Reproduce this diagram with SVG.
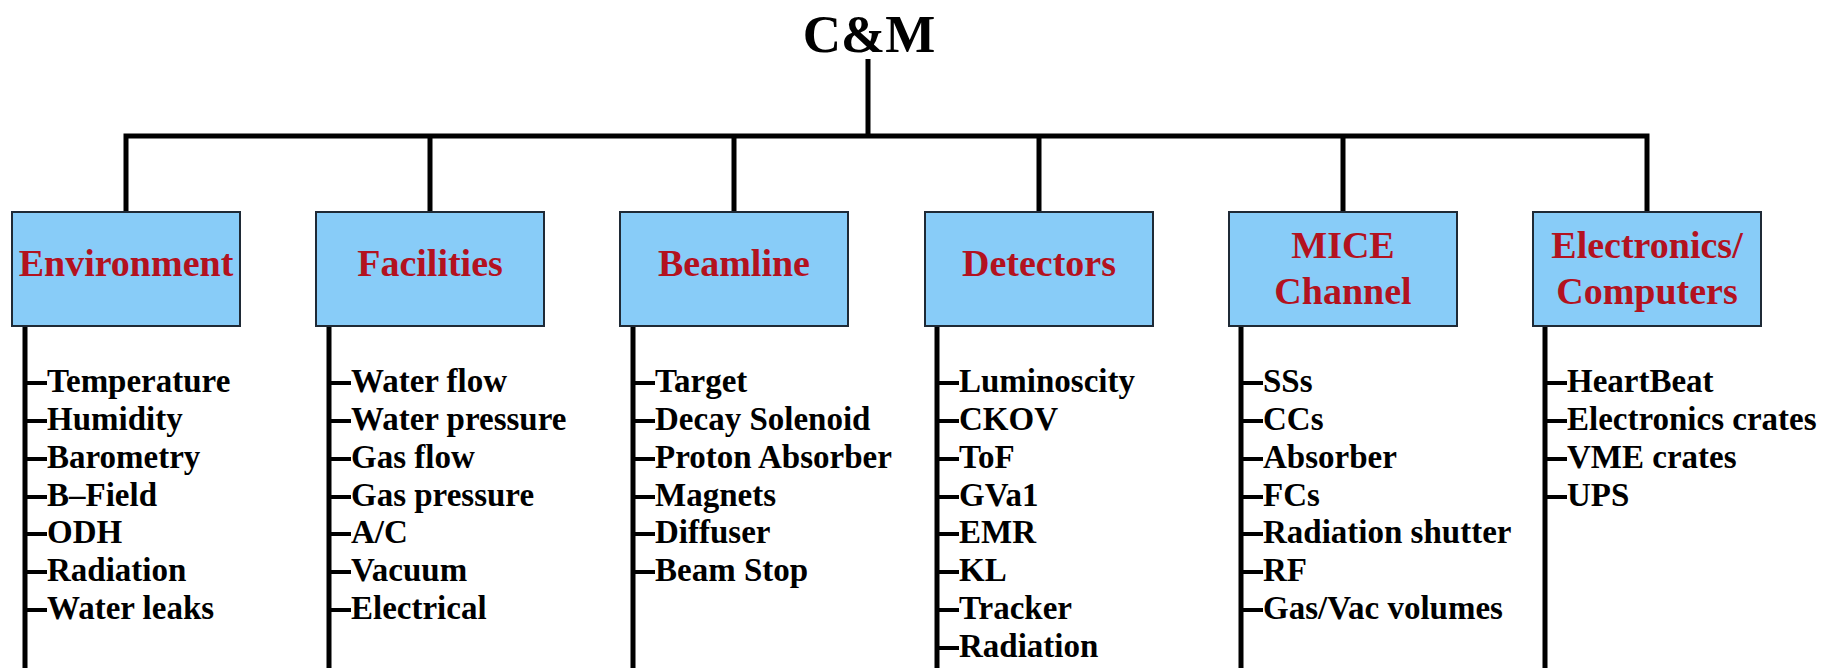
<svg xmlns="http://www.w3.org/2000/svg" width="1839" height="668" viewBox="0 0 1839 668">
<style>
.title{font-family:"Liberation Serif",serif;font-weight:bold;font-size:53px;fill:#000}
.box{fill:#88CCF8;stroke:#1f2a36;stroke-width:2}
.bt{font-family:"Liberation Serif",serif;font-weight:bold;font-size:38px;fill:#B3121F;text-anchor:middle}
.it{font-family:"Liberation Serif",serif;font-weight:bold;font-size:33px;fill:#000}
.ln{stroke:#000;stroke-width:5;fill:none}
.tk{stroke:#000;stroke-width:4;fill:none}
</style>
<rect width="1839" height="668" fill="#fff"/>
<g id="root"><text class="title" x="869" y="52" text-anchor="middle">C&amp;M</text></g>
<g id="connectors">
<path class="ln" d="M868,59V136M123.5,136H1649.5M126,136V212M430,136V212M734,136V212M1039,136V212M1343,136V212M1647,136V212"/>
<path class="ln" d="M25,326V668M329,326V668M633,326V668M937,326V668M1241,326V668M1545,326V668"/>
</g>
<g id="environment">
<rect class="box" x="12" y="212" width="228" height="114"/>
<text class="bt" x="126" y="276">Environment</text>
<path class="tk" d="M25,383h22M25,421h22M25,459h22M25,497h22M25,534h22M25,572h22M25,610h22"/>
<text class="it" x="47" y="392">Temperature</text>
<text class="it" x="47" y="430">Humidity</text>
<text class="it" x="47" y="468">Barometry</text>
<text class="it" x="47" y="506">B–Field</text>
<text class="it" x="47" y="543">ODH</text>
<text class="it" x="47" y="581">Radiation</text>
<text class="it" x="47" y="619">Water leaks</text>
</g>
<g id="facilities">
<rect class="box" x="316" y="212" width="228" height="114"/>
<text class="bt" x="430" y="276">Facilities</text>
<path class="tk" d="M329,383h22M329,421h22M329,459h22M329,497h22M329,534h22M329,572h22M329,610h22"/>
<text class="it" x="351" y="392">Water flow</text>
<text class="it" x="351" y="430">Water pressure</text>
<text class="it" x="351" y="468">Gas flow</text>
<text class="it" x="351" y="506">Gas pressure</text>
<text class="it" x="351" y="543">A/C</text>
<text class="it" x="351" y="581">Vacuum</text>
<text class="it" x="351" y="619">Electrical</text>
</g>
<g id="beamline">
<rect class="box" x="620" y="212" width="228" height="114"/>
<text class="bt" x="734" y="276">Beamline</text>
<path class="tk" d="M633,383h22M633,421h22M633,459h22M633,497h22M633,534h22M633,572h22"/>
<text class="it" x="655" y="392">Target</text>
<text class="it" x="655" y="430">Decay Solenoid</text>
<text class="it" x="655" y="468">Proton Absorber</text>
<text class="it" x="655" y="506">Magnets</text>
<text class="it" x="655" y="543">Diffuser</text>
<text class="it" x="655" y="581">Beam Stop</text>
</g>
<g id="detectors">
<rect class="box" x="925" y="212" width="228" height="114"/>
<text class="bt" x="1039" y="276">Detectors</text>
<path class="tk" d="M937,383h22M937,421h22M937,459h22M937,497h22M937,534h22M937,572h22M937,610h22M937,648h22"/>
<text class="it" x="959" y="392">Luminoscity</text>
<text class="it" x="959" y="430">CKOV</text>
<text class="it" x="959" y="468">ToF</text>
<text class="it" x="959" y="506">GVa1</text>
<text class="it" x="959" y="543">EMR</text>
<text class="it" x="959" y="581">KL</text>
<text class="it" x="959" y="619">Tracker</text>
<text class="it" x="959" y="657">Radiation</text>
</g>
<g id="mice-channel">
<rect class="box" x="1229" y="212" width="228" height="114"/>
<text class="bt" x="1343" y="258">MICE</text>
<text class="bt" x="1343" y="304">Channel</text>
<path class="tk" d="M1241,383h22M1241,421h22M1241,459h22M1241,497h22M1241,534h22M1241,572h22M1241,610h22"/>
<text class="it" x="1263" y="392">SSs</text>
<text class="it" x="1263" y="430">CCs</text>
<text class="it" x="1263" y="468">Absorber</text>
<text class="it" x="1263" y="506">FCs</text>
<text class="it" x="1263" y="543">Radiation shutter</text>
<text class="it" x="1263" y="581">RF</text>
<text class="it" x="1263" y="619">Gas/Vac volumes</text>
</g>
<g id="electronics-computers">
<rect class="box" x="1533" y="212" width="228" height="114"/>
<text class="bt" x="1647" y="258">Electronics/</text>
<text class="bt" x="1647" y="304">Computers</text>
<path class="tk" d="M1545,383h22M1545,421h22M1545,459h22M1545,497h22"/>
<text class="it" x="1567" y="392">HeartBeat</text>
<text class="it" x="1567" y="430">Electronics crates</text>
<text class="it" x="1567" y="468">VME crates</text>
<text class="it" x="1567" y="506">UPS</text>
</g>
</svg>
